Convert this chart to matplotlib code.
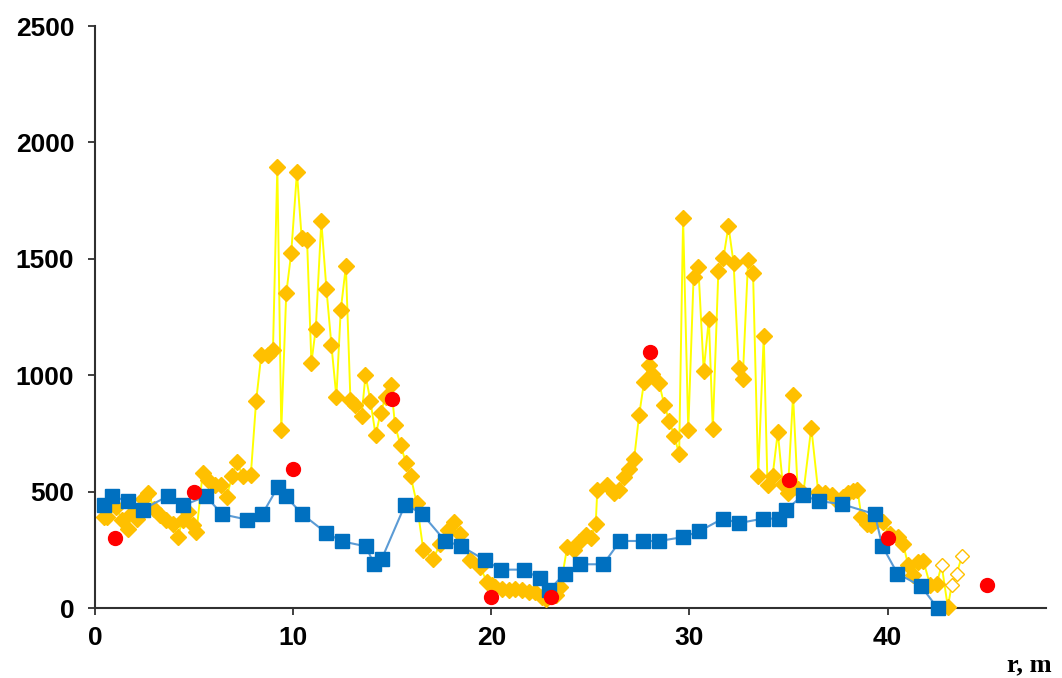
import numpy as np
import matplotlib
matplotlib.use("Agg")
import matplotlib.pyplot as plt

# ---- data ----
yellow_r = [0.46,0.62,1.05,1.38,1.66,1.89,2.14,2.42,2.65,3.0,
            3.26,3.58,3.92,4.17,4.42,4.7,4.95,5.12,5.43,5.71,
            6.03,6.36,6.64,6.92,7.16,7.46,7.86,8.13,8.39,8.73,
            8.98,9.2,9.4,9.65,9.9,10.19,10.43,10.7,10.92,11.14,
            11.42,11.68,11.93,12.18,12.4,12.66,12.89,13.11,13.45,13.65,
            13.9,14.16,14.41,14.67,14.94,15.14,15.42,15.7,15.93,16.24,
            16.57,17.08,17.42,17.79,18.13,18.43,18.94,19.44,19.78,20.03,
            20.2,20.54,20.88,21.22,21.55,21.89,22.23,22.57,22.75,23.24,
            23.49,23.83,24.17,24.42,24.76,25.01,25.27,25.35,25.85,26.19,
            26.45,26.71,26.96,27.21,27.46,27.71,27.96,28.13,28.47,28.73,
            28.98,29.23,29.48,29.68,29.94,30.21,30.45,30.72,30.98,31.18,
            31.46,31.71,31.97,32.23,32.49,32.69,32.96,33.21,33.47,33.75,
            33.94,34.2,34.46,34.71,34.96,35.23,35.46,35.75,36.15,36.5,
            36.83,37.2,37.5,37.76,38.01,38.27,38.48,38.68,38.94,39.16,
            39.49,39.79,40.1,40.54,40.79,41.04,41.3,41.52,41.81,42.15,
            42.48,42.73,43.04,43.24,43.49,43.75]
yellow_v = [392,390,435,378,342,410,385,471,495,428,
            400,378,361,306,378,414,357,328,579,550,
            528,528,478,567,628,567,571,890,1087,1087,
            1108,1893,765,1352,1524,1873,1588,1581,1054,1201,
            1662,1369,1130,908,1280,1469,893,872,825,1001,
            890,743,839,908,958,786,700,624,567,450,
            249,213,278,335,371,321,206,177,113,99,
            92,85,77,85,77,70,70,49,40,56,
            92,263,249,285,314,300,364,507,528,493,
            507,564,600,643,829,972,1044,1008,966,874,
            805,741,663,1674,765,1423,1465,1019,1242,770,
            1449,1502,1641,1481,1030,984,1494,1440,570,1168,
            530,570,757,533,493,915,514,495,776,500,
            493,485,457,478,495,504,510,392,364,357,
            378,371,320,306,275,185,142,199,203,99,
            106,185,6,99,149,223]
yellow_open_r = [42.73, 43.24, 43.49, 43.75]

blue_r = [0.46,0.84,1.64,2.4,3.66,4.46,5.6,6.41,7.66,8.44,
          9.23,9.62,10.46,11.65,12.44,13.67,14.08,14.46,15.65,16.49,
          17.67,18.46,19.70,20.49,21.64,22.45,22.9,23.7,24.47,25.65,
          26.5,27.68,28.47,29.7,30.5,31.68,32.52,33.7,34.5,34.89,
          35.73,36.52,37.7,39.36,39.73,40.5,41.69,42.53]
blue_v = [442,481,461,424,481,442,481,404,381,404,
          521,481,404,325,288,266,190,210,445,407,
          289,268,206,166,166,128,77,149,189,189,
          289,289,289,306,331,385,366,385,385,424,
          485,461,447,404,268,149,95,0]

red_r = [1, 5, 10, 15, 20, 23, 28, 35, 40, 45]
red_v = [300, 500, 600, 900, 50, 50, 1100, 550, 300, 100]

x_ticks = [0, 10, 20, 30, 40]
y_ticks = [0, 500, 1000, 1500, 2000, 2500]
x_label = "r, m"

# ---- plot ----
fig = plt.figure(figsize=(10.62, 6.78), dpi=100)
ax = fig.add_axes([0.0895, 0.1028, 0.8955, 0.8588])

yr = np.array(yellow_r)
yv = np.array(yellow_v)
is_open = np.isin(yr, yellow_open_r)

ax.plot(yr, yv, color="#FFFF00", lw=1.4, zorder=2, clip_on=False)
ax.plot(yr[~is_open], yv[~is_open], ls="none", marker="D", ms=8,
        mfc="#FFC000", mec="#FFC000", zorder=3, clip_on=False)
ax.plot(yr[is_open], yv[is_open], ls="none", marker="D", ms=7,
        mfc="white", mec="#FFC000", mew=1.0, zorder=3, clip_on=False)

ax.plot(blue_r, blue_v, color="#5B9BD5", lw=1.5, marker="s", ms=10,
        mfc="#0070C0", mec="#0070C0", zorder=4, clip_on=False)

ax.plot(red_r, red_v, ls="none", marker="o", ms=10,
        mfc="#FF0000", mec="#FF0000", zorder=5, clip_on=False)

ax.set_xlim(0, 48)
ax.set_ylim(0, 2500)
ax.set_xticks(x_ticks)
ax.set_yticks(y_ticks)
ax.spines["top"].set_visible(False)
ax.spines["right"].set_visible(False)
for s in ("left", "bottom"):
    ax.spines[s].set_color("#303030")
    ax.spines[s].set_linewidth(1.5)
ax.tick_params(direction="out", length=5, width=1.3, color="#303030",
               labelsize=19)
ax.tick_params(axis="y", pad=10)
ax.tick_params(axis="x", pad=8)
for lab in ax.get_xticklabels() + ax.get_yticklabels():
    lab.set_fontweight("bold")
    lab.set_fontfamily("Liberation Sans")

fig.text(0.99, 0.003, x_label, ha="right", va="bottom",
         fontsize=19, fontweight="bold", family="Liberation Serif")

fig.savefig("out.png", dpi=100)
